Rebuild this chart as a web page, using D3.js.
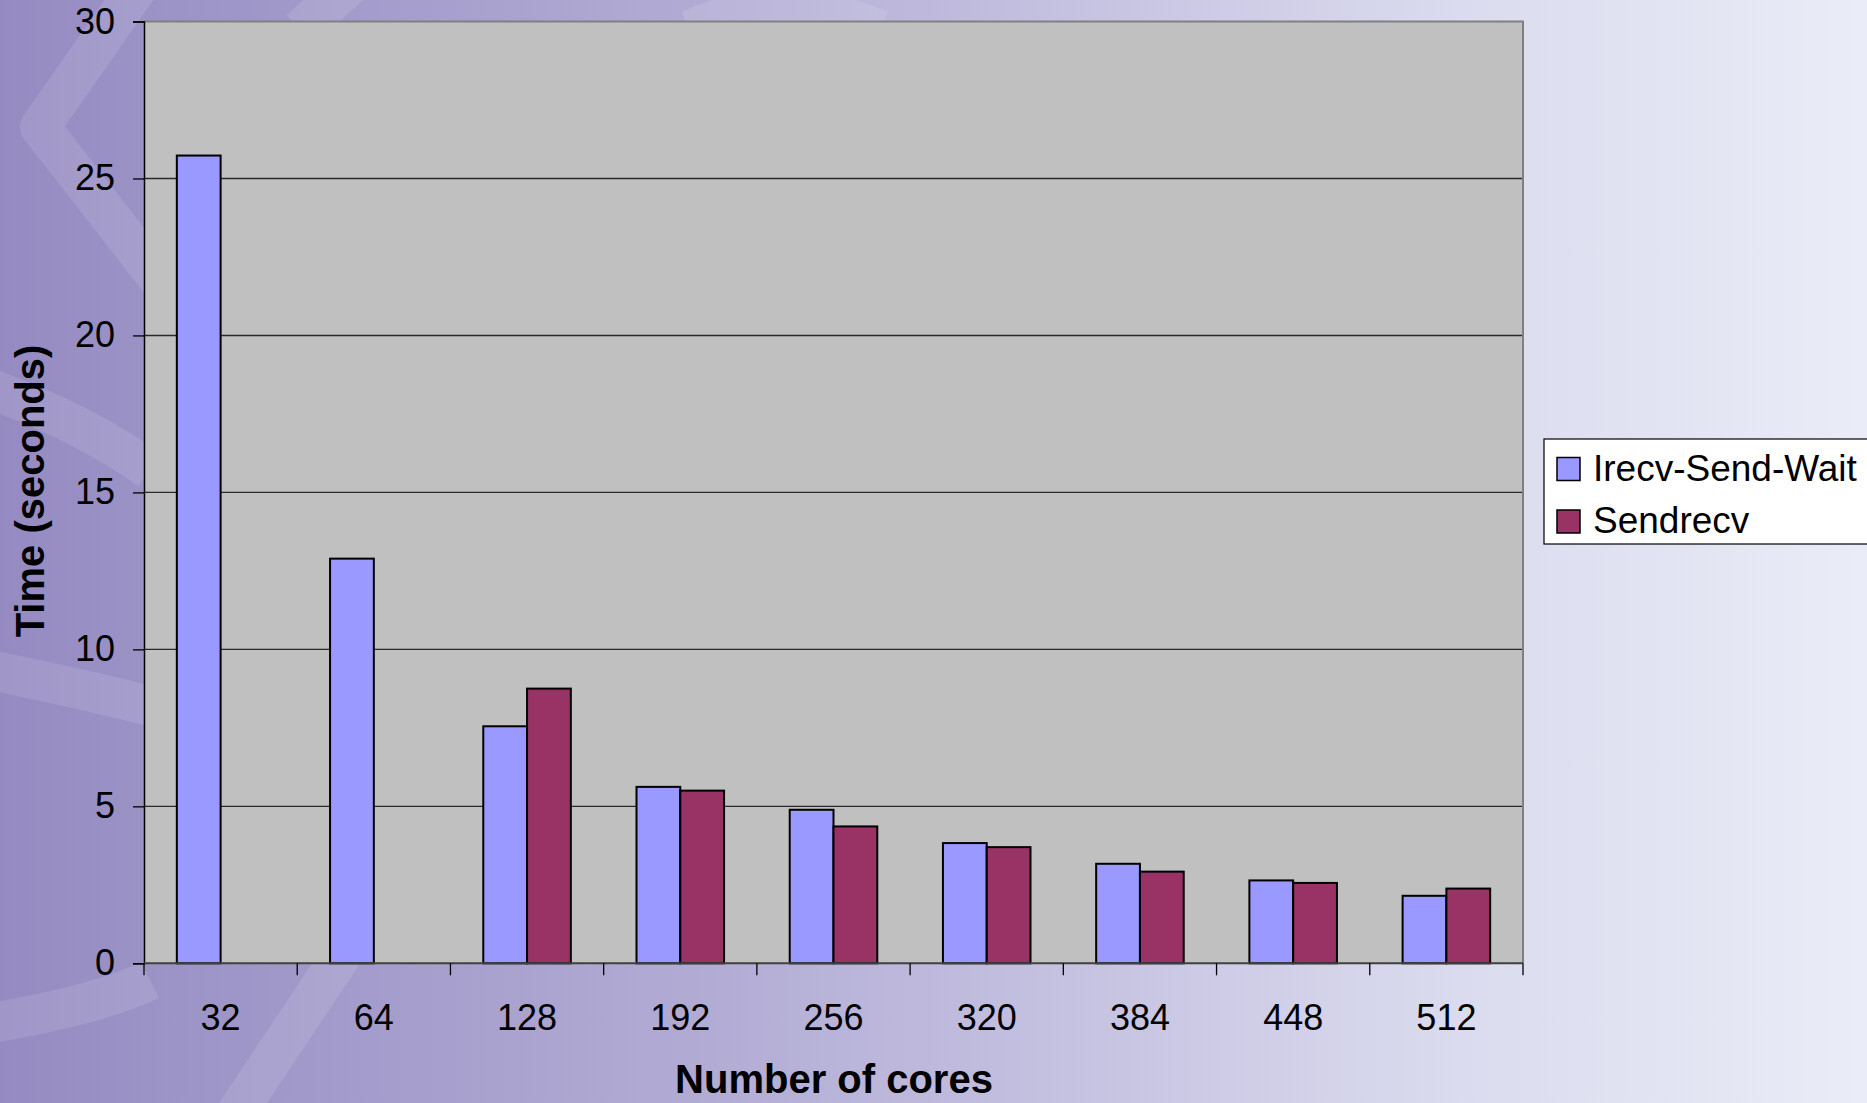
<!DOCTYPE html>
<html>
<head>
<meta charset="utf-8">
<script src="https://cdn.jsdelivr.net/npm/d3@7"></script>
<style>
  html, body { margin: 0; padding: 0; overflow: hidden; }
  svg { display: block; font-family: "Liberation Sans", Arial, sans-serif; }
</style>
</head>
<body>
<script>
// Core counts on the x axis
const categories = ["32", "64", "128", "192", "256", "320", "384", "448", "512"];
// Run times in seconds
const irecvSendWait = [25.73, 12.89, 7.55, 5.62, 4.89, 3.83, 3.17, 2.64, 2.15];
const sendrecv      = [null,  null,  8.75, 5.50, 4.36, 3.70, 2.92, 2.56, 2.38];
const seriesNames = ["Irecv-Send-Wait", "Sendrecv"];
const seriesColors = ["#9999ff", "#993366"];
const yTicks = [0, 5, 10, 15, 20, 25, 30];

const W = 1867, H = 1103;
const plot = { left: 144, right: 1523, top: 21.5, bottom: 963.3 };

const svg = d3.select("body").append("svg")
  .attr("width", W).attr("height", H);

// Slide background: purple-to-pale gradient with faint light bands
const defs = svg.append("defs");
const bg = defs.append("linearGradient").attr("id", "bg")
  .attr("x1", 0).attr("y1", 0).attr("x2", 1).attr("y2", 0);
[[0, "#958bc2"], [0.37, "#b1abd4"], [0.56, "#c4c0e0"], [0.78, "#dadbee"], [1, "#eaecf7"]]
  .forEach(([o, c]) => bg.append("stop").attr("offset", o).attr("stop-color", c));
svg.append("rect").attr("width", W).attr("height", H).attr("fill", "url(#bg)");

const bands = [
  "M150,-30 L40,127 L175,300",
  "M-20,385 Q80,420 150,470",
  "M-20,668 Q80,688 150,706",
  "M-20,1025 Q100,1005 150,980",
  "M225,1130 L345,950",
  "M300,30 L350,-15",
  "M690,30 Q780,-12 880,30"
];
svg.append("g").selectAll("path").data(bands).join("path")
  .attr("d", d => d)
  .attr("fill", "none").attr("stroke", "#ffffff")
  .attr("stroke-width", 40).attr("stroke-opacity", 0.11)
  .attr("stroke-linejoin", "round");

// Scales
const x = d3.scaleBand().domain(categories).range([plot.left, plot.right]).padding(0);
const xs = d3.scaleBand().domain(seriesNames).range([0, x.bandwidth()])
  .paddingInner(0).paddingOuter(0.75);
const y = d3.scaleLinear().domain([0, 30]).range([plot.bottom, plot.top]);

// Plot area
svg.append("rect")
  .attr("x", plot.left).attr("y", plot.top)
  .attr("width", plot.right - plot.left).attr("height", plot.bottom - plot.top)
  .attr("fill", "#c0c0c0");

// Horizontal gridlines
svg.append("g").selectAll("line")
  .data(yTicks.filter(t => t > 0 && t < 30))
  .join("line")
  .attr("x1", plot.left).attr("x2", plot.right)
  .attr("y1", d => y(d)).attr("y2", d => y(d))
  .attr("stroke", "#2a2a2a").attr("stroke-width", 1.4);

// Top and right border of the plot area
svg.append("path")
  .attr("d", `M${plot.left},${plot.top}H${plot.right}V${plot.bottom}`)
  .attr("fill", "none").attr("stroke", "#808080").attr("stroke-width", 2);

// Bars
const rows = categories.map((c, i) => ({ cat: c, vals: [irecvSendWait[i], sendrecv[i]] }));
const groups = svg.append("g").selectAll("g")
  .data(rows).join("g")
  .attr("transform", d => `translate(${x(d.cat)},0)`);
groups.selectAll("rect")
  .data(d => d.vals.map((v, j) => ({ v, name: seriesNames[j], color: seriesColors[j] }))
    .filter(e => e.v != null))
  .join("rect")
  .attr("x", d => xs(d.name))
  .attr("width", xs.bandwidth())
  .attr("y", d => y(d.v))
  .attr("height", d => y(0) - y(d.v))
  .attr("fill", d => d.color)
  .attr("stroke", "#000").attr("stroke-width", 2);

// Y axis
const yAxis = svg.append("g")
  .attr("transform", `translate(${plot.left},0)`)
  .call(d3.axisLeft(y).tickValues(yTicks).tickSize(11).tickPadding(18));
yAxis.select(".domain").attr("stroke", "#000").attr("stroke-width", 1.5);
yAxis.selectAll(".tick line").attr("stroke", "#000").attr("stroke-width", 1.3);
yAxis.selectAll(".tick text")
  .attr("font-size", 36).attr("fill", "#000")
  .attr("font-family", "Liberation Sans, Arial, sans-serif");

// X axis: labels centred in each band, ticks on the band boundaries
const xAxis = svg.append("g")
  .attr("transform", `translate(0,${plot.bottom})`)
  .call(d3.axisBottom(x).tickSize(0).tickPadding(0));
xAxis.select(".domain").remove();
xAxis.selectAll(".tick text")
  .attr("y", 66.7).attr("dy", 0)
  .attr("font-size", 36).attr("fill", "#000")
  .attr("font-family", "Liberation Sans, Arial, sans-serif");

svg.append("line")
  .attr("x1", plot.left).attr("x2", plot.right)
  .attr("y1", plot.bottom).attr("y2", plot.bottom)
  .attr("stroke", "#404040").attr("stroke-width", 2);

const bounds = categories.map(c => x(c)).concat([x.range()[1]]);
svg.append("g").selectAll("line")
  .data(bounds).join("line")
  .attr("x1", d => d).attr("x2", d => d)
  .attr("y1", plot.bottom).attr("y2", plot.bottom + 12)
  .attr("stroke", "#000").attr("stroke-width", 1.3);

// Axis titles
svg.append("text")
  .attr("x", (plot.left + plot.right) / 2 + 0.5).attr("y", 1093)
  .attr("text-anchor", "middle")
  .attr("font-size", 40).attr("font-weight", "bold").attr("fill", "#000")
  .text("Number of cores");

svg.append("text")
  .attr("transform", `translate(44,491) rotate(-90)`)
  .attr("text-anchor", "middle")
  .attr("font-size", 40).attr("font-weight", "bold").attr("fill", "#000")
  .text("Time (seconds)");

// Legend
const legend = svg.append("g");
legend.append("rect")
  .attr("x", 1544).attr("y", 439).attr("width", 360).attr("height", 105)
  .attr("fill", "#fff").attr("stroke", "#000").attr("stroke-width", 1.2);
const items = legend.selectAll("g.item")
  .data(seriesNames).join("g").attr("class", "item")
  .attr("transform", (d, i) => `translate(1557,${457.5 + i * 52.5})`);
items.append("rect")
  .attr("width", 23).attr("height", 23)
  .attr("fill", (d, i) => seriesColors[i])
  .attr("stroke", "#000").attr("stroke-width", 1.5);
items.append("text")
  .attr("x", 36).attr("y", 23)
  .attr("font-size", 37).attr("fill", "#000")
  .text(d => d);
</script>
</body>
</html>
